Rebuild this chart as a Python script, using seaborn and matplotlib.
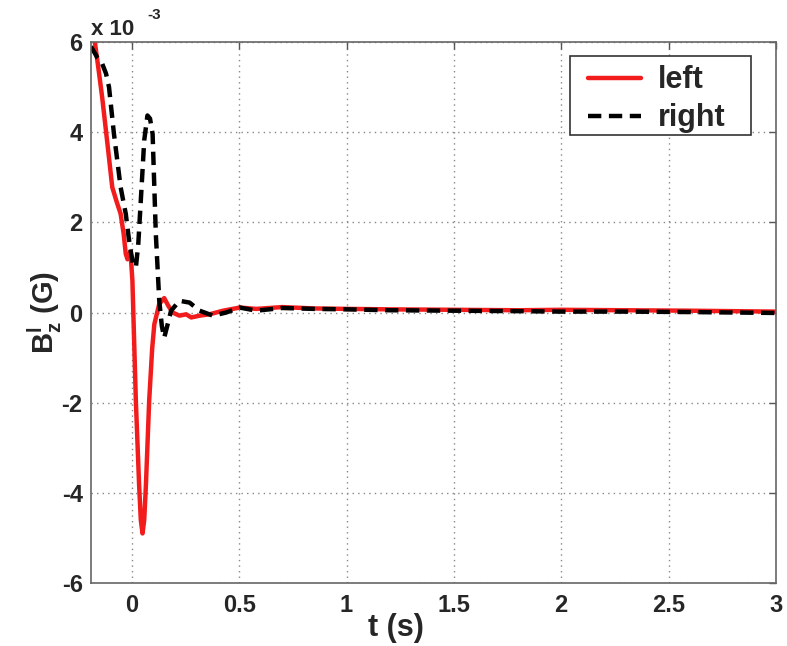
import matplotlib
matplotlib.use("Agg")
import matplotlib.pyplot as plt
from matplotlib.patches import Rectangle
import seaborn as sns
import numpy as np
import pandas as pd

# Time samples (s) and field values (units of 1e-3 G)
t_left = [-0.19, -0.172, -0.155, -0.138, -0.11, -0.091, -0.07, -0.052, -0.038, -0.028,
          -0.02, -0.006, 0.003, 0.019, 0.034, 0.042, 0.05, 0.058, 0.066, 0.081, 0.095,
          0.105, 0.128, 0.151, 0.17, 0.19, 0.222, 0.253, 0.277, 0.316, 0.362, 0.425,
          0.503, 0.58, 0.7, 0.85, 1.0, 1.2, 1.5, 1.8, 2.0, 2.3, 2.6, 3.0]
bz_left = [6.4, 6.0, 5.4, 4.78, 3.6, 2.78, 2.45, 2.19, 1.75, 1.30,
           1.18, 1.35, 0.7, -1.96, -3.81, -4.6, -4.9, -4.6, -3.81, -1.96, -0.8,
           -0.26, 0.19, 0.32, 0.15, 0.0, -0.07, -0.04, -0.11, -0.07, -0.04, 0.04,
           0.11, 0.08, 0.12, 0.09, 0.08, 0.07, 0.06, 0.05, 0.06, 0.05, 0.04, 0.02]

t_right = [-0.19, -0.16, -0.138, -0.12, -0.106, -0.083, -0.052, -0.028, -0.01, 0.005,
           0.019, 0.03, 0.042, 0.058, 0.073, 0.085, 0.097, 0.112, 0.128, 0.14, 0.151,
           0.165, 0.183, 0.222, 0.269, 0.316, 0.378, 0.44, 0.503, 0.58, 0.7, 0.85,
           1.0, 1.2, 1.5, 1.8, 2.0, 2.3, 2.6, 3.0]
bz_right = [5.9, 5.65, 5.52, 5.3, 5.0, 3.96, 2.78, 2.19, 1.5, 1.1,
            1.0, 1.5, 2.48, 3.82, 4.37, 4.3, 3.96, 1.74, 0.26, -0.3, -0.56,
            -0.3, 0.04, 0.26, 0.22, 0.04, -0.07, 0.0, 0.11, 0.04, 0.10, 0.08,
            0.07, 0.05, 0.04, 0.03, 0.02, 0.02, 0.01, -0.01]

x_ticks = [0, 0.5, 1, 1.5, 2, 2.5, 3]
x_tick_labels = ["0", "0.5", "1", "1.5", "2", "2.5", "3"]
y_ticks = [-6, -4, -2, 0, 2, 4, 6]
SCALE = 1e-3

sns.set_style("white")
plt.rcParams["font.family"] = ["Liberation Sans", "DejaVu Sans"]
plt.rcParams["font.weight"] = "bold"
plt.rcParams["mathtext.fontset"] = "custom"
plt.rcParams["mathtext.bf"] = "Liberation Sans:bold"
plt.rcParams["mathtext.rm"] = "Liberation Sans:bold"
plt.rcParams["mathtext.it"] = "Liberation Sans:bold"

fig = plt.figure(figsize=(7.87, 6.46), dpi=100)
ax = fig.add_axes([0.1156, 0.0975, 0.8704, 0.8375])

left_df = pd.DataFrame({"t": t_left, "bz": np.array(bz_left) * SCALE})
right_df = pd.DataFrame({"t": t_right, "bz": np.array(bz_right) * SCALE})

sns.lineplot(data=left_df, x="t", y="bz", ax=ax, color="#f21c1c", lw=3.2, label="left")
sns.lineplot(data=right_df, x="t", y="bz", ax=ax, color="black", lw=3.2,
             linestyle="--", label="right")
right_line = ax.lines[-1]
right_line.set_dashes((3.0, 1.7))

ax.set_xlim(-0.19, 3.0)
ax.set_ylim(-6 * SCALE, 6 * SCALE)
ax.set_xticks(x_ticks)
ax.set_xticklabels(x_tick_labels)
ax.set_yticks([v * SCALE for v in y_ticks])
ax.set_yticklabels([str(v) for v in y_ticks])

ax.tick_params(direction="in", length=5, width=1, color="#555555",
               labelsize=17, top=True, right=True)
ax.tick_params(axis="x", pad=8)
ax.tick_params(axis="y", pad=6)
for lab in ax.get_xticklabels() + ax.get_yticklabels():
    lab.set_fontweight("bold")

ax.grid(True, linestyle=(0, (1, 3)), color="#888888", lw=1.0)
for sp in ax.spines.values():
    sp.set_color("#666666")
    sp.set_linewidth(1.2)

ax.set_xlabel("t (s)", fontsize=22, fontweight="bold")
ax.xaxis.set_label_coords(0.445, -0.056)
ax.set_ylabel(r"$\mathbf{B_z^l}$ (G)", fontsize=21, fontweight="bold")
ax.yaxis.set_label_coords(-0.039, 0.5)

# exponent marker for the y axis
ax.text(0.0, 1.013, "x 10", transform=ax.transAxes, fontsize=16,
        fontweight="bold", ha="left", va="baseline")
ax.text(0.082, 1.043, "-3", transform=ax.transAxes, fontsize=11,
        fontweight="bold", ha="left", va="baseline")

# legend entries, with a plain rectangular frame around them
handles = [ax.lines[0], right_line]
leg = ax.legend(handles, ["left", "right"], loc="upper left",
                bbox_to_anchor=(0.7255, 0.957), fontsize=22, frameon=False,
                handlelength=1.75, borderpad=0, labelspacing=0.26,
                handletextpad=0.55, borderaxespad=0)
for txt in leg.get_texts():
    txt.set_fontweight("bold")
ax.add_patch(Rectangle((0.699, 0.828), 0.264, 0.146, transform=ax.transAxes,
                       facecolor="white", edgecolor="#333333", lw=1.2, zorder=4))
leg.set_zorder(5)

fig.savefig("out.png", dpi=100, facecolor="white")
